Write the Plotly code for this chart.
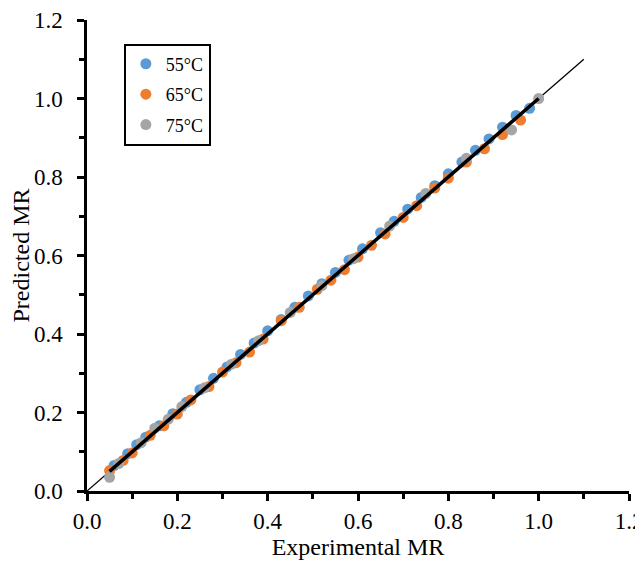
import plotly.graph_objects as go

# 55°C
exp_55 = [0.06, 0.09, 0.11, 0.13, 0.16, 0.19, 0.22, 0.25, 0.28, 0.31, 0.34, 0.37, 0.40, 0.43, 0.46,
          0.49, 0.52, 0.55, 0.58, 0.61, 0.65, 0.68, 0.71, 0.74, 0.77, 0.80, 0.83, 0.86, 0.89, 0.92, 0.95, 0.98]
pred_55 = [0.065, 0.095, 0.118, 0.137, 0.166, 0.197, 0.226, 0.258, 0.287, 0.316, 0.348, 0.377, 0.408, 0.437, 0.468,
           0.497, 0.528, 0.557, 0.588, 0.617, 0.658, 0.687, 0.718, 0.748, 0.778, 0.808, 0.838, 0.868, 0.897, 0.927, 0.957, 0.975]
# 65°C
exp_65 = [0.05, 0.08, 0.10, 0.14, 0.17, 0.20, 0.23, 0.27, 0.30, 0.33, 0.36, 0.39, 0.43, 0.47, 0.51,
          0.54, 0.57, 0.60, 0.63, 0.66, 0.70, 0.73, 0.77, 0.80, 0.84, 0.88, 0.92, 0.96]
pred_65 = [0.052, 0.078, 0.097, 0.142, 0.166, 0.196, 0.232, 0.266, 0.303, 0.327, 0.354, 0.387, 0.434, 0.468, 0.514,
           0.537, 0.564, 0.596, 0.626, 0.655, 0.697, 0.727, 0.772, 0.797, 0.838, 0.872, 0.908, 0.945]
# 75°C
exp_75 = [0.05, 0.07, 0.12, 0.15, 0.18, 0.21, 0.26, 0.32, 0.38, 0.45, 0.52, 0.59, 0.67, 0.75, 0.84, 0.94, 1.00]
pred_75 = [0.035, 0.070, 0.123, 0.160, 0.183, 0.215, 0.263, 0.323, 0.383, 0.455, 0.523, 0.592, 0.675, 0.758, 0.848, 0.920, 1.000]

ref_line = [0.0, 1.1]
x_ticks = [0.0, 0.2, 0.4, 0.6, 0.8, 1.0, 1.2]

all_exp = exp_55 + exp_65 + exp_75
fit_x = [min(all_exp), max(all_exp)]

font = "Liberation Serif, Times New Roman, serif"
fig = go.Figure()
fig.add_trace(go.Scatter(x=ref_line, y=ref_line, mode="lines", line=dict(color="black", width=1.3),
                         showlegend=False, hoverinfo="skip"))
for name, xs, ys, col in [("55°C", exp_55, pred_55, "#5B9BD5"),
                          ("65°C", exp_65, pred_65, "#ED7D31"),
                          ("75°C", exp_75, pred_75, "#A5A5A5")]:
    fig.add_trace(go.Scatter(x=xs, y=ys, mode="markers", name=name, legendgroup=name,
                             marker=dict(color=col, size=11, line=dict(width=0))))
fig.add_trace(go.Scatter(x=fit_x, y=fit_x, mode="lines", line=dict(color="black", width=3.5),
                         showlegend=False, hoverinfo="skip"))

axis_common = dict(range=[0, 1.2], tickvals=x_ticks, tickformat=".1f", showgrid=False, zeroline=False,
                   showline=True, linecolor="black", linewidth=2.5, ticks="outside", ticklen=7,
                   tickwidth=2.5, tickcolor="black", automargin=False, ticklabeloverflow="allow",
                   minor=dict(ticks="outside", ticklen=5, tickwidth=2.5, tickcolor="black", dtick=0.1),
                   tickfont=dict(family=font, size=23, color="black"))
fig.update_layout(
    width=635, height=560,
    margin=dict(l=79, r=14, t=12, b=77),
    plot_bgcolor="white", paper_bgcolor="white",
    xaxis=dict(**axis_common, ticklabelstandoff=1,
               title=dict(text="Experimental MR", font=dict(family=font, size=24, color="black"), standoff=4)),
    yaxis=dict(**axis_common, ticklabelstandoff=10,
               title=dict(text="Predicted MR", font=dict(family=font, size=24, color="black"))),
    legend=dict(x=0.068, y=0.95, xanchor="left", yanchor="top", bgcolor="white",
                bordercolor="black", borderwidth=2, font=dict(family=font, size=18, color="black"),
                itemwidth=30, tracegroupgap=4, traceorder="grouped"),
    showlegend=True,
)
fig.write_html("out.html")
